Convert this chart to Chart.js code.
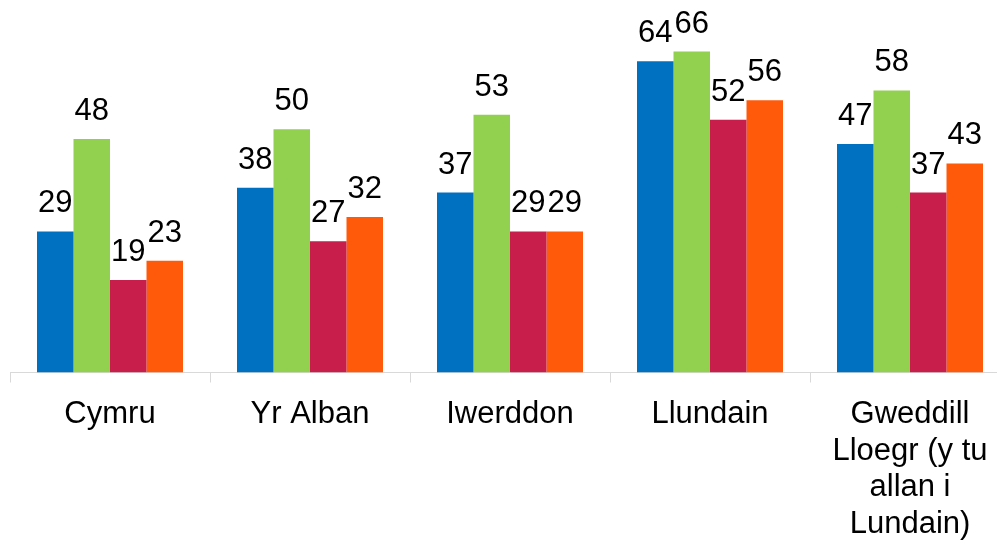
<!DOCTYPE html>
<html>
<head>
<meta charset="utf-8">
<script src="https://cdn.jsdelivr.net/npm/chart.js@4/dist/chart.umd.min.js"></script>
<style>
  html, body { margin: 0; padding: 0; background: #ffffff; overflow: hidden; }
  #wrap { position: relative; width: 1020px; height: 540px; }
</style>
</head>
<body>
<div id="wrap"><canvas id="c"></canvas></div>
<script>
const categories = [
  "Cymru",
  "Yr Alban",
  "Iwerddon",
  "Llundain",
  ["Gweddill", "Lloegr (y tu", "allan i", "Lundain)"]
];
const seriesBlue   = [29, 38, 37, 64, 47];
const seriesGreen  = [48, 50, 53, 66, 58];
const seriesRed    = [19, 27, 29, 52, 37];
const seriesOrange = [23, 32, 29, 56, 43];

const FONT = "'Liberation Sans', Arial, sans-serif";

const dataLabels = {
  id: 'dataLabels',
  afterDatasetsDraw(chart) {
    const ctx = chart.ctx;
    ctx.save();
    ctx.font = "31px " + FONT;
    ctx.fillStyle = "#000000";
    ctx.textAlign = "center";
    ctx.textBaseline = "alphabetic";
    chart.data.datasets.forEach((ds, i) => {
      const meta = chart.getDatasetMeta(i);
      meta.data.forEach((el, j) => {
        ctx.fillText(String(ds.data[j]), el.x, el.y - 19);
      });
    });
    ctx.restore();
  }
};

new Chart(document.getElementById('c'), {
  type: 'bar',
  data: {
    labels: categories,
    datasets: [
      { data: seriesBlue,   backgroundColor: '#0070C0' },
      { data: seriesGreen,  backgroundColor: '#92D050' },
      { data: seriesRed,    backgroundColor: '#C81E4B' },
      { data: seriesOrange, backgroundColor: '#FF5A0A' }
    ]
  },
  options: {
    responsive: true,
    maintainAspectRatio: false,
    animation: false,
    devicePixelRatio: 1,
    layout: { padding: { left: 10, right: 10, top: 0, bottom: 0 } },
    plugins: { legend: { display: false }, tooltip: { enabled: false } },
    datasets: { bar: { categoryPercentage: 0.73, barPercentage: 1.0 } },
    scales: {
      y: { display: false, min: 0, max: 76.6 },
      x: {
        afterFit(scale) { scale.height = 167.5; },
        grid: { offset: true, drawOnChartArea: false, tickLength: 10, color: '#D9D9D9', lineWidth: 1 },
        border: { color: '#D9D9D9', width: 1 },
        ticks: {
          color: '#000000',
          padding: 14,
          maxRotation: 0,
          autoSkip: false,
          font: { family: FONT, size: 31, lineHeight: 1.18 }
        }
      }
    }
  },
  plugins: [dataLabels]
});
</script>
</body>
</html>
